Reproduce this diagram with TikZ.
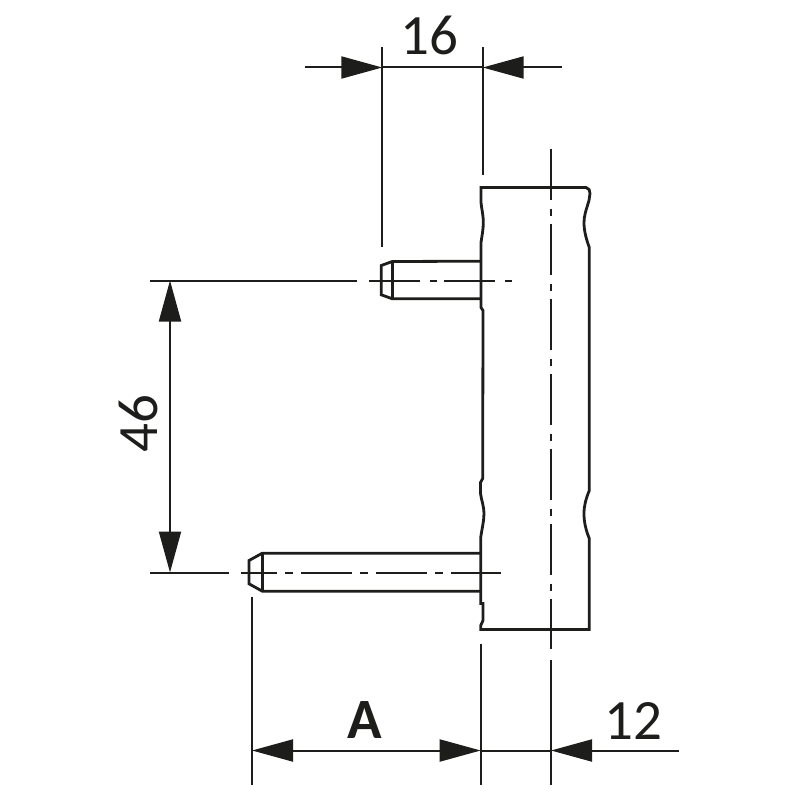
\documentclass[tikz,border=0pt]{standalone}
\usepackage{fontspec}
\setmainfont{Carlito}
\usetikzlibrary{arrows.meta}
\definecolor{ink}{HTML}{1D1D1B}
\tikzset{
  thin line/.style={line width=2pt,draw=ink},
  outline/.style={line width=2.8pt,draw=ink,line join=miter},
  center line/.style={line width=2pt,draw=ink,dash pattern=on 51pt off 9pt on 7pt off 8pt},
  dim/.style={line width=2pt,draw=ink},
  tipa/.tip={Triangle[length=41pt,width=22pt,color=ink]},
  label/.style={text=ink,font=\fontsize{57}{57}\selectfont,inner sep=0pt}
}
\begin{document}
\begin{tikzpicture}[x=1pt,y=-1pt]
\useasboundingbox (0,0) rectangle (800,800);
\begin{scope}[yshift=-0.5pt]
% body
\draw[outline] (481,187) -- (586,187) .. controls (589,187.5) and (590,190) .. (590,193)
  -- (589,200) .. controls (586,210) and (584,215) .. (584,222)
  .. controls (584,230) and (586,238) .. (589.3,247)
  -- (589.3,490) .. controls (586,498) and (584,505) .. (584,513)
  .. controls (584,522) and (586,530) .. (589.3,538)
  -- (589.3,629) -- (480.7,629) -- (480.7,625) -- (483,620) -- (483,603) -- (480.7,603)
  -- (480.7,537) .. controls (482,528) and (484,520) .. (484,513)
  .. controls (484,506) and (481.5,500) .. (480.5,493)
  -- (480.5,482) -- (482.7,478) -- (482.7,470) -- (483,310) -- (481,307)
  -- (481,242) .. controls (482,235) and (483.3,229) .. (483.3,222)
  .. controls (483.3,214) and (481.5,208) .. (481,202) -- cycle;
% upper pin
\draw[outline] (481,260.7) -- (392.3,261) -- (381.3,265) -- (381.3,294.3) -- (392.3,298.3) -- (481,298.3);
\draw[outline] (392.3,261) -- (392.3,298.3);
% lower pin
\draw[outline] (480.7,552.7) -- (262.3,552.7) -- (249,560) -- (249,583.3) -- (262.3,590.7) -- (480.7,590.7);
\draw[outline] (262.3,552.7) -- (262.3,590.7);
% centre lines
\draw[center line] (551,148) -- (551,648);
\draw[thin line] (551,659) -- (551,784);
\draw[center line,dash pattern=on 51pt off 10pt on 7pt off 7pt] (369,280) -- (512,280);
\draw[center line,dash pattern=on 51pt off 8pt on 8pt off 8pt,dash phase=15pt] (241,572) -- (501,572);
% extension lines
\draw[thin line] (382.3,47) -- (382.3,246);
\draw[thin line] (482.7,47) -- (482.7,174);
\draw[thin line] (150,280) -- (357,280);
\draw[thin line] (150,572) -- (229,572);
\draw[thin line] (252,596) -- (252,784);
\draw[thin line] (480.7,643) -- (480.7,784);
% dimension lines
\coordinate (d16a) at (305,67); \coordinate (d16b) at (382.3,67);
\coordinate (d16c) at (482.7,67); \coordinate (d16d) at (562,67);
\draw[dim,-{tipa}] (d16a) -- (d16b);
\draw[dim] (d16b) -- (d16c);
\draw[dim,-{tipa}] (d16d) -- (d16c);
\coordinate (d46a) at (170,280); \coordinate (d46b) at (170,572);
\draw[dim,{tipa}-{tipa}] (d46a) -- (d46b);
\coordinate (dAa) at (252,750); \coordinate (dAb) at (480.7,750);
\coordinate (d12a) at (551,750); \coordinate (d12b) at (679,750);
\draw[dim,{tipa}-{tipa}] (dAa) -- (dAb);
\draw[dim] (dAb) -- (d12a);
\draw[dim,-{tipa}] (d12b) -- (d12a);
% labels
\node[label] (l16) at (429.5,34.5) {16};
\node[label,rotate=90] (l46) at (138,423) {46};
\node[label,font=\fontsize{57}{57}\selectfont\bfseries] (lA) at (365,720) {A};
\node[label] (l12) at (633,720) {12};
\end{scope}
\end{tikzpicture}
\end{document}
